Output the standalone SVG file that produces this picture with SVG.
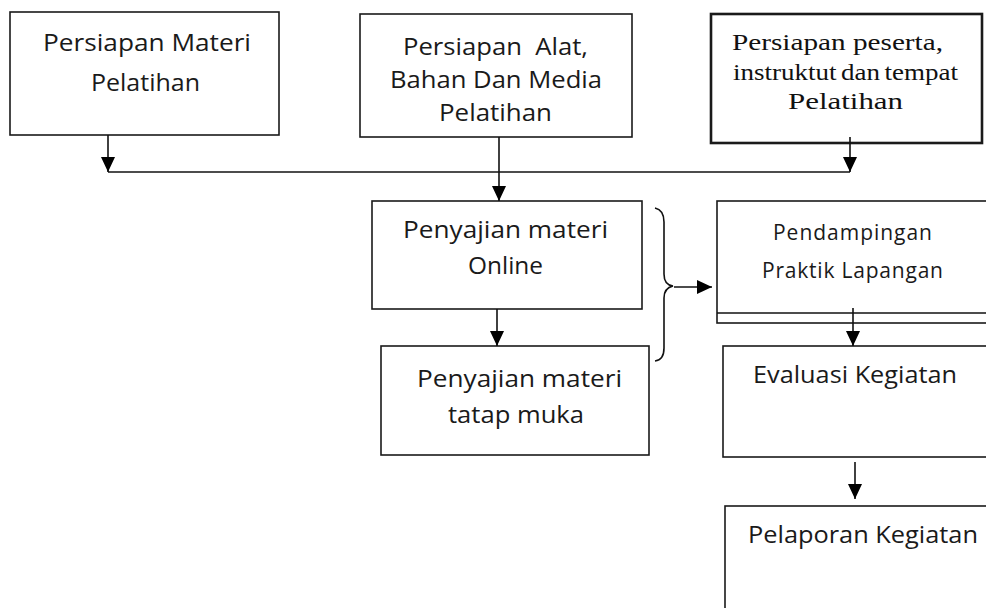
<svg xmlns="http://www.w3.org/2000/svg" width="986" height="608" viewBox="0 0 986 608">
<defs>
<marker id="ah" markerUnits="userSpaceOnUse" markerWidth="16" markerHeight="16" refX="15" refY="7" orient="auto">
<path d="M0,0 L15,7 L0,14 Z" fill="#000"/>
</marker>
</defs>
<style>
.box{fill:#fff;stroke:#1a1a1a;stroke-width:1.6}
.thick{stroke-width:2.6}
.t{font-family:"Open Sans","Noto Sans","Liberation Sans",sans-serif;font-size:24px;fill:#1a1a1a}
.s{font-family:"Liberation Serif","DejaVu Serif",serif;font-size:24px;fill:#111}
.sm{font-size:21px}
.c{fill:none;stroke:#111;stroke-width:1.6}
</style>
<rect width="986" height="608" fill="#fff"/>
<g id="n1">
<rect class="box" x="10" y="12" width="269" height="123"/>
<text class="t" x="43" y="51" textLength="208" lengthAdjust="spacingAndGlyphs">Persiapan Materi</text>
<text class="t" x="91" y="91" textLength="109" lengthAdjust="spacingAndGlyphs">Pelatihan</text>
</g>
<g id="n2">
<rect class="box" x="360" y="14" width="272" height="123"/>
<text class="t" x="403" y="55" textLength="185" lengthAdjust="spacingAndGlyphs" xml:space="preserve">Persiapan  Alat,</text>
<text class="t" x="390" y="88" textLength="212" lengthAdjust="spacingAndGlyphs">Bahan Dan Media</text>
<text class="t" x="439" y="121" textLength="113" lengthAdjust="spacingAndGlyphs">Pelatihan</text>
</g>
<g id="n3">
<rect class="box thick" x="711" y="14" width="271" height="129"/>
<text class="s" x="732" y="50" textLength="211" lengthAdjust="spacingAndGlyphs">Persiapan peserta,</text>
<text class="s" x="733" y="80" textLength="225" lengthAdjust="spacingAndGlyphs" word-spacing="-2">instruktut dan tempat</text>
<text class="s" x="788" y="109" textLength="115" lengthAdjust="spacingAndGlyphs">Pelatihan</text>
</g>
<g id="n4">
<rect class="box" x="372" y="201" width="270" height="108"/>
<text class="t" x="403" y="238" textLength="205" lengthAdjust="spacingAndGlyphs">Penyajian materi</text>
<text class="t" x="468" y="274" textLength="75" lengthAdjust="spacingAndGlyphs">Online</text>
</g>
<g id="n5">
<rect class="box" x="381" y="346" width="268" height="109"/>
<text class="t" x="417" y="387" textLength="205" lengthAdjust="spacingAndGlyphs">Penyajian materi</text>
<text class="t" x="448" y="423" textLength="136" lengthAdjust="spacingAndGlyphs">tatap muka</text>
</g>
<g id="n6">
<rect class="box" x="717" y="201" width="280" height="122"/>
<line class="c" x1="717" y1="313" x2="990" y2="313"/>
<text class="t sm" x="773" y="240" textLength="159">Pendampingan</text>
<text class="t sm" x="762" y="278" textLength="181">Praktik Lapangan</text>
</g>
<g id="n7">
<rect class="box" x="723" y="346" width="280" height="111"/>
<text class="t" x="753" y="383" textLength="204" lengthAdjust="spacingAndGlyphs">Evaluasi Kegiatan</text>
</g>
<g id="n8">
<rect class="box" x="725" y="506" width="280" height="120"/>
<text class="t" x="748" y="543" textLength="230" lengthAdjust="spacingAndGlyphs">Pelaporan Kegiatan</text>
</g>
<g id="connectors">
<line class="c" x1="108" y1="172" x2="850" y2="172"/>
<line class="c" x1="108" y1="135" x2="108" y2="172" marker-end="url(#ah)"/>
<line class="c" x1="850" y1="137" x2="850" y2="172" marker-end="url(#ah)"/>
<line class="c" x1="499" y1="137" x2="499" y2="201" marker-end="url(#ah)"/>
<line class="c" x1="497" y1="309" x2="497" y2="346" marker-end="url(#ah)"/>
<path class="c" d="M655,208 Q664,210 664,222 L664,274 Q664,285 673,286 Q664,288 664,298 L664,348 Q664,360 655,361"/>
<line class="c" x1="674" y1="287" x2="712" y2="287" marker-end="url(#ah)"/>
<line class="c" x1="853" y1="308" x2="853" y2="346" marker-end="url(#ah)"/>
<line class="c" x1="855" y1="462" x2="855" y2="499" marker-end="url(#ah)"/>
</g>
</svg>
